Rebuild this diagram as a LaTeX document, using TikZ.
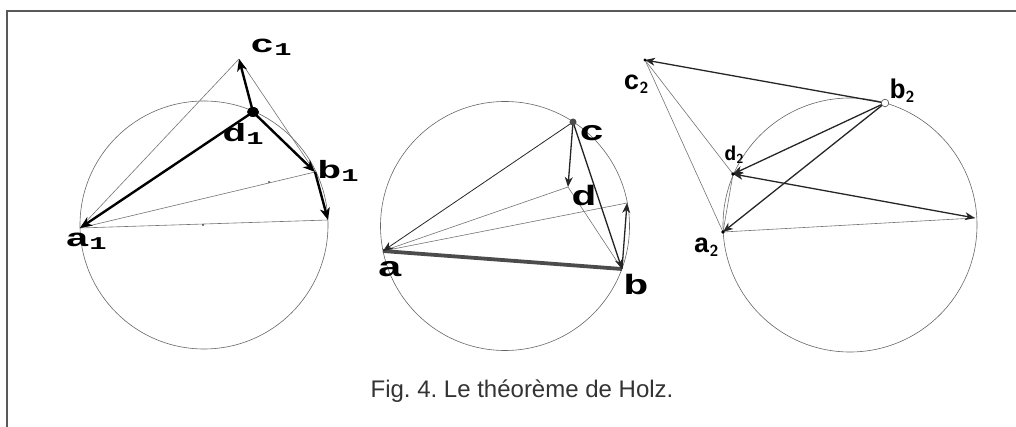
\documentclass[tikz,border=0pt]{standalone}
\usepackage{fontspec}
\setmainfont{Liberation Sans}
\newfontfamily\lblfont{Liberation Mono}
\usetikzlibrary{arrows.meta}
\frenchspacing
\tikzset{
  circ/.style={draw=black!60, line width=0.6pt},
  thinl/.style={draw=black!55, line width=0.6pt},
  thickarr/.style={draw=black, line width=2.4pt, -{Stealth[length=12pt,width=10pt,inset=3.5pt]}},
  medarr/.style={draw=black!85, line width=1.3pt, -{Stealth[length=10pt,width=8pt,inset=3pt]}},
  thinarr/.style={draw=black!85, line width=0.8pt, -{Stealth[length=10pt,width=8pt,inset=3pt]}},
  lbl/.style={inner sep=0pt, font=\lblfont\bfseries\fontsize{25}{25}\selectfont},
  lblp/.style={inner sep=0pt, font=\lblfont\bfseries\fontsize{28}{28}\selectfont},
  lblb/.style={inner sep=0pt, font=\lblfont\bfseries\fontsize{27}{27}\selectfont},
}
\newcommand{\wide}[1]{\scalebox{1.6}[1]{#1}}
\newcommand{\widep}[1]{\scalebox{1.5}[1]{#1}}
\newcommand{\subs}[1]{\raisebox{-3pt}{\fontsize{18}{18}\selectfont #1}}
\newcommand{\subt}[1]{\raisebox{-4pt}{\sffamily\fontsize{16}{16}\selectfont #1}}
\begin{document}
\begin{tikzpicture}[x=1pt,y=-1pt]
\useasboundingbox (0,0) rectangle (1016,427);
% frame
\draw[draw=black!65, line width=2pt] (7,427) -- (7,11) -- (1016,11);
% ---------- panel 1 ----------
\coordinate (o1) at (204,225);
\coordinate (a1) at (80,228);
\coordinate (e1) at (328,220);
\coordinate (b1) at (315,172);
\coordinate (d1) at (253,112);
\coordinate (c1) at (239,59);
\draw[circ] (o1) circle (124);
\draw[thinl] (c1) -- (a1);
\draw[thinl] (c1) -- (b1);
\draw[thinl] (b1) -- (a1);
\draw[thinl] (a1) -- (e1);
\fill (269,182) circle (0.9);
\fill (203,225) circle (0.9);
\draw[thickarr] (d1) -- (c1);
\draw[thickarr] (d1) -- (b1);
\draw[thickarr] (d1) -- (a1);
\draw[thickarr] (b1) -- (e1);
\fill (d1) ellipse (6 and 5);
\node[lbl] (lc1) at (271,47) {\wide{c\subs{1}}};
\node[lbl] (ld1) at (243,134) {\wide{d\subs{1}}};
\node[lbl] (lb1) at (338,171) {\wide{b\subs{1}}};
\node[lbl] (la1) at (86,241) {\wide{a\subs{1}}};
% ---------- panel 2 ----------
\coordinate (o2) at (505,226);
\coordinate (a) at (383,251);
\coordinate (b) at (622,269);
\coordinate (c) at (573,122);
\coordinate (d) at (568,187);
\coordinate (e) at (627,203);
\draw[circ] (o2) circle (124.5);
\draw[thinl] (d) -- (a);
\draw[thinl] (d) -- (b);
\draw[thinl] (e) -- (a);
\draw[draw=black!70, line width=3.8pt] (a) -- (b);
\draw[thinarr] (c) -- (a);
\draw[medarr] (c) -- (d);
\draw[medarr] (c) -- (b);
\draw[medarr] (b) -- (e);
\fill[black!70] (c) circle (3.5);
\node[lblp] (lc) at (592,133) {\widep{c}};
\node[lblp] (ld) at (584,195) {\widep{d}};
\node[lblp] (la) at (390,269) {\widep{a}};
\node[lblp] (lb) at (636,284) {\widep{b}};
% ---------- panel 3 ----------
\coordinate (o3) at (850,225);
\coordinate (a2) at (723,232);
\coordinate (d2) at (733,174);
\coordinate (b2) at (885,103);
\coordinate (e2) at (975,218);
\coordinate (c2) at (645,60);
\draw[circ] (o3) circle (127);
\draw[thinl] (c2) -- (d2);
\draw[thinl] (c2) -- (a2);
\draw[thinl] (a2) -- (e2);
\draw[thinl] (d2) -- (a2);
\draw[medarr] (b2) -- (c2);
\draw[medarr] (b2) -- (d2);
\draw[medarr] (b2) -- (a2);
\draw[medarr, {Stealth[length=10pt,width=8pt,inset=3pt]}-{Stealth[length=10pt,width=8pt,inset=3pt]}] (d2) -- (e2);
\fill (c2) circle (1.6);
\fill (d2) circle (1.8);
\fill (a2) circle (1.8);
\draw[fill=white, draw=black!70, line width=0.6pt] (b2) circle (3.8);
\node[lblb] (lc2) at (636,84) {c\subt{2}};
\node[lblb] (lb2) at (902,91) {b\subt{2}};
\node[inner sep=0pt, font=\lblfont\bfseries\fontsize{20}{20}\selectfont] (ld2) at (734,155) {d\raisebox{-3pt}{\sffamily\fontsize{13}{13}\selectfont 2}};
\node[lblb] (la2) at (706,247) {a\subt{2}};
% caption
\node[font=\fontsize{24}{24}\selectfont, text=black!80, anchor=base] (cap) at (522,397) {Fig. 4. Le théorème de Holz.};
\end{tikzpicture}
\end{document}
